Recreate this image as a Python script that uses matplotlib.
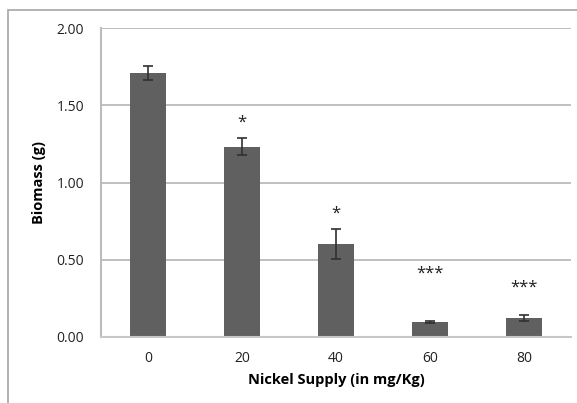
import matplotlib.pyplot as plt
from matplotlib.patches import Rectangle

plt.rcParams['font.family'] = ['Open Sans', 'DejaVu Sans']

nickel = ["0", "20", "40", "60", "80"]
biomass = [1.707, 1.23, 0.602, 0.097, 0.123]
errors = [0.045, 0.055, 0.095, 0.004, 0.02]
stars = ["", "*", "*", "***", "***"]
star_y = [None, 1.39, 0.80, 0.41, 0.32]

fig = plt.figure(figsize=(5.77, 4.03), dpi=100)
ax = fig.add_axes([101 / 577, 1 - 337 / 403, 470 / 577, 309 / 403])

# chart frame, cut off at right and bottom
fig.patches.append(Rectangle((8 / 577, -0.1), 1.2, 1 - 10 / 403 + 0.1,
                             transform=fig.transFigure, fill=False,
                             edgecolor='#a6a6a6', lw=1.2))

x = range(len(nickel))
ax.bar(x, biomass, width=0.39, color='#606060', zorder=2)
ax.errorbar(x, biomass, yerr=errors, fmt='none', ecolor='#303030',
            elinewidth=1.2, capsize=3.5, capthick=1.2, zorder=3)
for i, s in enumerate(stars):
    if s:
        ax.text(i, star_y[i], s, ha='center', va='center', fontsize=12,
                color='#202020')

ax.set_xlim(-0.5, 4.5)
ax.set_ylim(0, 2.0)
ax.set_yticks([0, 0.5, 1.0, 1.5, 2.0])
ax.set_yticklabels(["0.00", "0.50", "1.00", "1.50", "2.00"])
ax.set_xticks(list(x))
ax.set_xticklabels(nickel)
ax.tick_params(length=0, labelsize=10, colors='#222222', pad=12)
ax.tick_params(axis='x', pad=10)
ax.yaxis.grid(True, color='#b5b5b5', lw=1.2, zorder=0)
ax.set_axisbelow(True)
for side in ['top', 'right']:
    ax.spines[side].set_visible(False)
ax.spines['left'].set_color('#bcbcbc')
ax.spines['bottom'].set_color('#c8c8c8')
ax.spines['left'].set_linewidth(1.5)
ax.spines['bottom'].set_linewidth(1.5)

ax.set_xlabel("Nickel Supply (in mg/Kg)", fontsize=10.5, fontweight='bold',
              labelpad=5)
ax.set_ylabel("Biomass (g)", fontsize=10.5, fontweight='bold', labelpad=8)

fig.savefig("out.png", dpi=100)
